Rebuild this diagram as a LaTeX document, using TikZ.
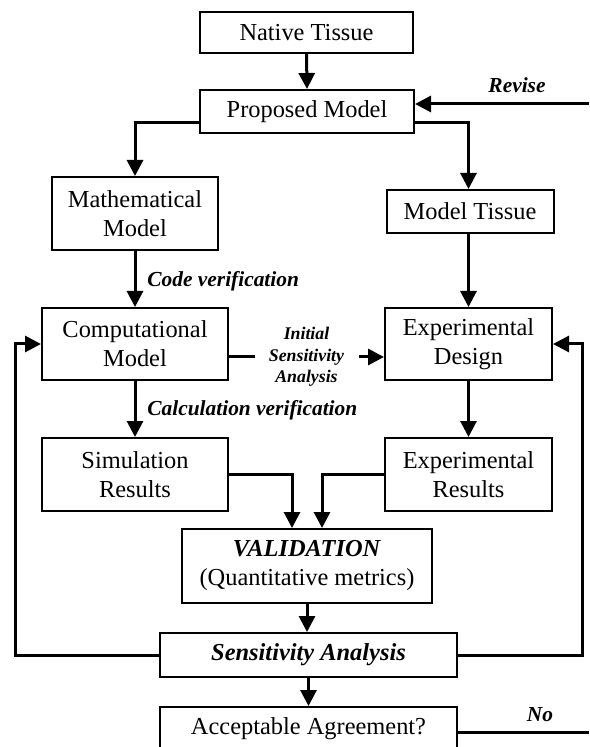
\documentclass[tikz,border=0pt]{standalone}
\usepackage{fontspec}
\setmainfont{Liberation Serif}
\usetikzlibrary{arrows.meta,calc}
\begin{document}
\begin{tikzpicture}[x=0.5pt,y=-0.5pt,
  box/.style={draw, line width=1pt, align=center, inner sep=1pt,
    font=\fontsize{12.2}{14.5}\selectfont},
  conn/.style={line width=1.5pt},
  arr/.style={conn, -{Triangle[length=8pt,width=8pt]}},
  lab/.style={font=\fontsize{10.7}{12}\selectfont\bfseries\itshape, inner sep=1pt},
  isa/.style={font=\fontsize{8.9}{10.75}\selectfont\bfseries\itshape,
    fill=white, align=center, minimum width=52pt, inner sep=0pt}]
\useasboundingbox (0,0) rectangle (589,747);
\clip (0,0) rectangle (589,747);

\node[box, minimum width=106.5pt, minimum height=20.5pt] (native) at (306.5,32.5) {Native Tissue};
\node[box, minimum width=107pt, minimum height=21.5pt] (proposed) at (307,111.5) {Proposed Model};
\node[box, minimum width=83pt, minimum height=36.5pt] (math) at (135,213.5) {Mathematical\\Model};
\node[box, minimum width=83.5pt, minimum height=21.5pt] (tissue) at (470,211.5) {Model Tissue};
\node[box, minimum width=93pt, minimum height=36pt] (comp) at (135,344) {Computational\\Model};
\node[box, minimum width=83.5pt, minimum height=36pt] (expd) at (468.5,344) {Experimental\\Design};
\node[box, minimum width=93pt, minimum height=36.5pt] (sim) at (135,474.5) {Simulation\\Results};
\node[box, minimum width=83.5pt, minimum height=36.5pt] (expr) at (468.5,474.5) {Experimental\\Results};
\node[box, minimum width=125pt, minimum height=37pt] (valid) at (307,566) {\textbf{\textit{VALIDATION}}\\(Quantitative metrics)};
\node[box, minimum width=148.5pt, minimum height=22pt] (sens) at (308.5,655) {\textbf{\textit{Sensitivity Analysis}}};
\node[box, minimum width=148.5pt, minimum height=22pt] (accept) at (308.5,729) {Acceptable Agreement?};

\coordinate (L) at (15,0);
\coordinate (R) at (582,0);
\coordinate (revE) at (589,104);
\coordinate (noE) at (589,732);

\draw[arr] (native.south) -- (proposed.north);
\draw[arr] ($(proposed.west)+(0,11.5)$) -| (math.north);
\draw[arr] ($(proposed.east)+(0,11.5)$) -| (expd.north |- tissue.north);
\draw[arr] (math.south) -- (comp.north);
\node[lab, anchor=west] (codev) at (145,281) {Code verification};
\draw[arr] (expd.north |- tissue.south) -- (expd.north);
\draw[arr] ($(comp.east)+(0,13)$) -- node[isa] (isalab) {Initial\\Sensitivity\\Analysis} ($(expd.west)+(0,13)$);
\draw[arr] (comp.south) -- (sim.north);
\node[lab, anchor=west] (calcv) at (145,410) {Calculation verification};
\draw[arr] (expd.south) -- (expr.north);
\draw[arr] (sim.east) -| ($(valid.north)+(-15,0)$);
\draw[arr] (expr.west) -| ($(valid.north)+(15,0)$);
\draw[arr] (valid.south) -- (valid.south |- sens.north);
\draw[arr] (sens.south) -- (accept.north);
\draw[arr] (sens.west) -- (sens.west -| L) |- (comp.west);
\draw[arr] (sens.east) -- (sens.east -| R) |- (expd.east);
\draw[arr] (revE) -- (proposed.east |- revE);
\node[lab] (revise) at (517,85) {Revise};
\draw[conn] (accept.east |- noE) -- (noE);
\node[lab] (no) at (540,715) {No};
\end{tikzpicture}
\end{document}
